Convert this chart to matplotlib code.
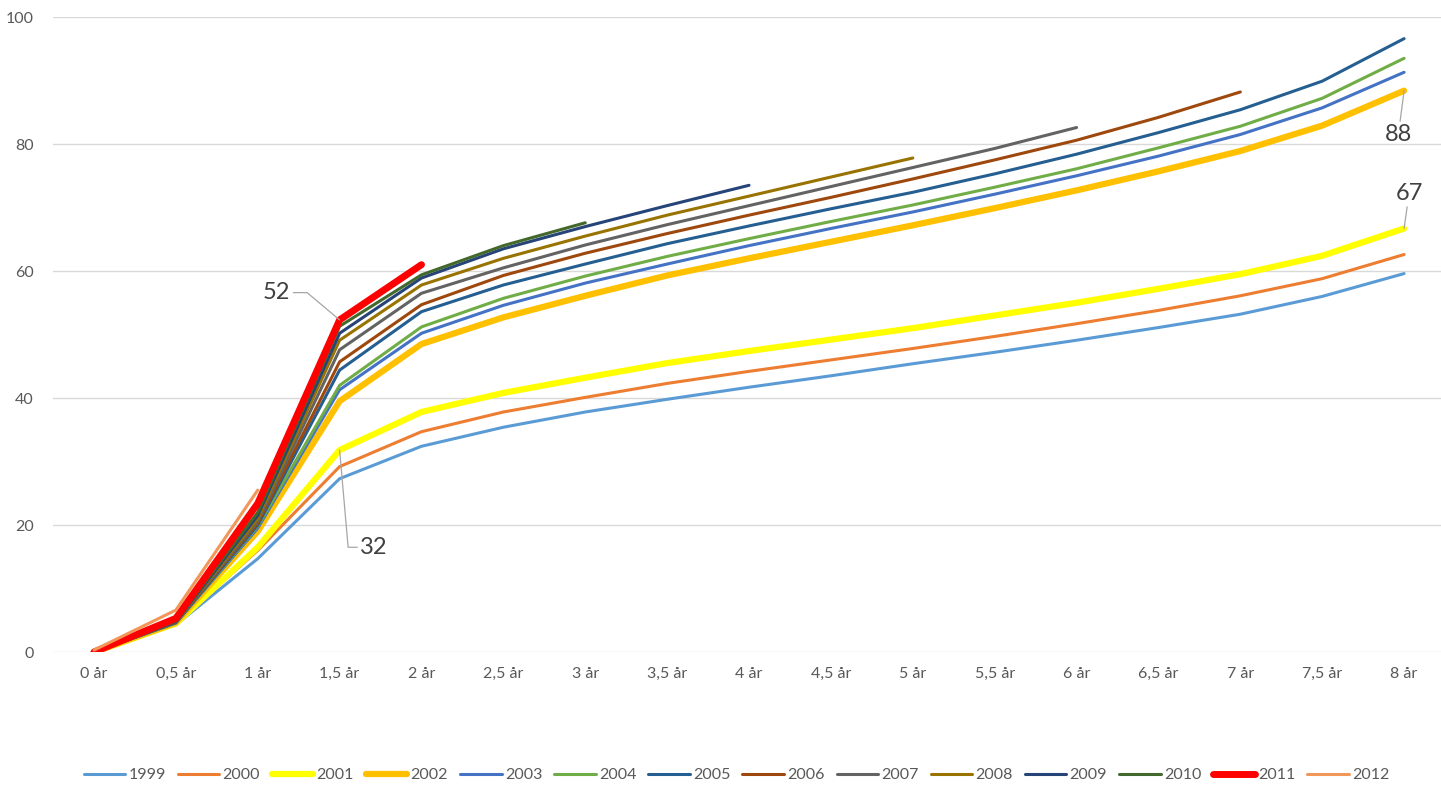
import matplotlib
matplotlib.use("Agg")
import matplotlib.pyplot as plt

plt.rcParams['font.family'] = ['Lato', 'DejaVu Sans']

# kategorier: år efter start
kategorier = ["0 år", "0,5 år", "1 år", "1,5 år", "2 år", "2,5 år", "3 år", "3,5 år",
              "4 år", "4,5 år", "5 år", "5,5 år", "6 år", "6,5 år", "7 år", "7,5 år", "8 år"]

v1999 = [0, 4.3, 14.7, 27.3, 32.4, 35.4, 37.8, 39.8, 41.7, 43.5, 45.4, 47.2, 49.1, 51.1, 53.2, 56.0, 59.6]
v2000 = [0, 4.5, 16.0, 29.2, 34.7, 37.8, 40.1, 42.3, 44.2, 46.0, 47.8, 49.7, 51.7, 53.8, 56.1, 58.8, 62.6]
v2001 = [0, 4.5, 16.5, 31.8, 37.8, 40.8, 43.2, 45.5, 47.4, 49.2, 51.0, 53.0, 55.0, 57.2, 59.5, 62.4, 66.7]
v2002 = [0, 4.6, 19.0, 39.5, 48.5, 52.7, 56.1, 59.3, 62.0, 64.6, 67.2, 69.9, 72.7, 75.7, 78.9, 82.9, 88.4]
v2003 = [0, 4.6, 19.5, 41.3, 50.2, 54.6, 58.1, 61.1, 64.0, 66.7, 69.3, 72.1, 75.0, 78.1, 81.5, 85.7, 91.3]
v2004 = [0, 4.6, 19.8, 42.0, 51.2, 55.7, 59.2, 62.3, 65.1, 67.8, 70.4, 73.2, 76.1, 79.4, 82.8, 87.2, 93.5]
v2005 = [0, 4.6, 20.0, 44.4, 53.6, 57.8, 61.1, 64.3, 67.1, 69.8, 72.4, 75.3, 78.4, 81.8, 85.4, 89.9, 96.6]
v2006 = [0, 4.7, 20.3, 45.7, 54.7, 59.3, 62.8, 65.9, 68.8, 71.6, 74.5, 77.5, 80.6, 84.2, 88.2]
v2007 = [0, 4.7, 20.6, 47.6, 56.5, 60.5, 64.1, 67.3, 70.3, 73.3, 76.3, 79.3, 82.6]
v2008 = [0, 4.8, 21.0, 49.1, 57.8, 62.0, 65.5, 68.8, 71.8, 74.8, 77.8]
v2009 = [0, 4.8, 21.5, 50.2, 58.9, 63.5, 67.0, 70.3, 73.5]
v2010 = [0, 4.9, 22.0, 51.3, 59.4, 64.0, 67.6]
v2011 = [0, 5.3, 23.4, 52.3, 61.0]
v2012 = [0.3, 6.6, 25.5]

serier = [
    ("1999", v1999, "#5B9BD5", 2.2),
    ("2000", v2000, "#ED7D31", 2.2),
    ("2001", v2001, "#FFFF00", 4.5),
    ("2002", v2002, "#FFC000", 4.5),
    ("2003", v2003, "#4472C4", 2.2),
    ("2004", v2004, "#70AD47", 2.2),
    ("2005", v2005, "#255E91", 2.2),
    ("2006", v2006, "#9E480E", 2.2),
    ("2007", v2007, "#636363", 2.2),
    ("2008", v2008, "#997300", 2.2),
    ("2009", v2009, "#264478", 2.2),
    ("2010", v2010, "#43682B", 2.2),
    ("2011", v2011, "#FF0000", 5.0),
    ("2012", v2012, "#F1975A", 2.2),
]

grå = "#595959"

fig = plt.figure(figsize=(14.41, 7.85), dpi=100)
ax = fig.add_axes([0.0368, 0.1694, 0.966, 0.8089])

for namn, v, färg, lw in serier:
    ax.plot(range(len(v)), v, color=färg, lw=lw, label=namn,
            solid_capstyle="round", solid_joinstyle="round")

ax.set_xlim(-0.5, 16.5)
ax.set_ylim(0, 100)
ax.set_yticks(range(0, 101, 20))
ax.set_xticks(range(len(kategorier)))
ax.set_xticklabels(kategorier)
ax.tick_params(axis="both", length=0, labelsize=11.5, colors=grå)
ax.tick_params(axis="x", pad=11)
ax.tick_params(axis="y", pad=14)
ax.grid(axis="y", color="#D9D9D9", lw=1)
ax.set_axisbelow(True)
for s in ax.spines.values():
    s.set_visible(False)

# dataetiketter med hänvisningslinjer
lj = dict(arrowstyle="-", color="#A6A6A6", lw=0.9, shrinkA=0, shrinkB=0)
ax.annotate("52", xy=(3, v2011[3]), xytext=(2.4, 56.6), fontsize=17, color="#404040",
            ha="right", va="center",
            arrowprops=dict(lj, connectionstyle="angle,angleA=0,angleB=140,rad=0"))
ax.annotate("32", xy=(3, v2001[3]), xytext=(3.25, 16.5), fontsize=17, color="#404040",
            ha="left", va="center",
            arrowprops=dict(lj, connectionstyle="angle,angleA=180,angleB=95,rad=0"))
ax.annotate("88", xy=(16, v2002[16]), xytext=(15.93, 81.5), fontsize=17, color="#404040",
            ha="center", va="center", arrowprops=lj)
ax.annotate("67", xy=(16, v2001[16]), xytext=(16.06, 72.2), fontsize=17, color="#404040",
            ha="center", va="center", arrowprops=lj)

fig.legend(loc="center", bbox_to_anchor=(0.511, 0.0127), ncol=14, frameon=False,
           fontsize=11.5, labelcolor=grå, handlelength=2.6, handletextpad=0.2,
           columnspacing=0.75, borderpad=0)

fig.savefig("out.png", dpi=100, facecolor="white")
